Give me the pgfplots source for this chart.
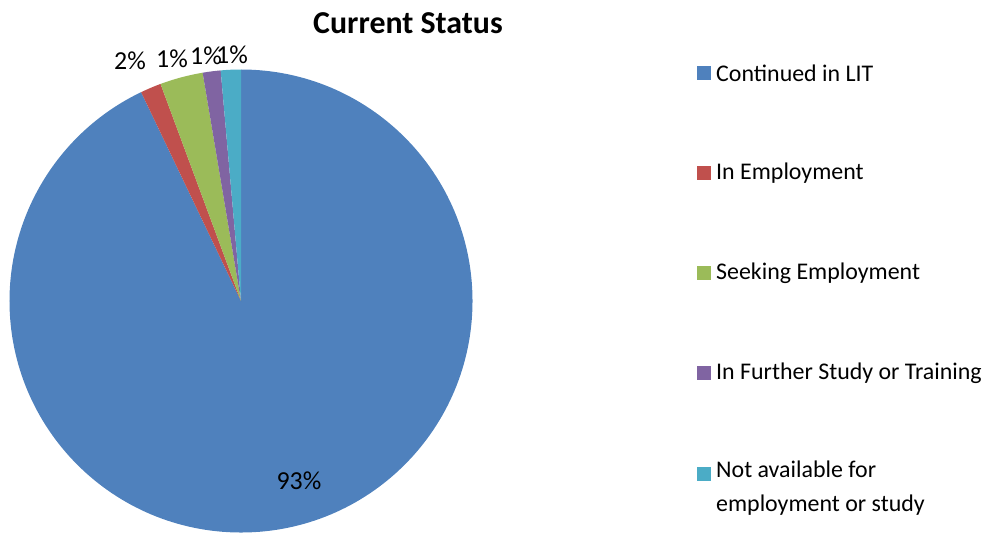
\documentclass[border=0pt]{standalone}
\usepackage{pgfplots}
\usepackage{pgfplotstable}
\pgfplotsset{compat=1.18}
\usepackage{fontspec}
\setmainfont{Carlito}
\definecolor{cBlue}{HTML}{4F81BD}
\definecolor{cRed}{HTML}{C0504D}
\definecolor{cGreen}{HTML}{9BBB59}
\definecolor{cPurple}{HTML}{8064A2}
\definecolor{cCyan}{HTML}{4BACC6}
\pgfplotstableread{
value color
92.9 cBlue
1.45 cRed
3.0 cGreen
1.25 cPurple
1.4 cCyan
}\piedata
\begin{document}
\begin{tikzpicture}[x=1bp,y=1bp]
\useasboundingbox (0,0) rectangle (992,-534);
\begin{axis}[
  at={(241bp,-301bp)}, anchor=center,
  scale only axis, width=463bp, height=463bp,
  xmin=-1, xmax=1, ymin=-1, ymax=1,
  hide axis, clip=false,
]
\pgfplotstablegetrowsof{\piedata}
\pgfmathtruncatemacro{\nrows}{\pgfplotsretval-1}
\def\cum{0}
\pgfplotsforeachungrouped \i in {0,...,\nrows}{%
  \pgfplotstablegetelem{\i}{value}\of{\piedata}\let\val\pgfplotsretval
  \pgfplotstablegetelem{\i}{color}\of{\piedata}\let\col\pgfplotsretval
  \pgfmathsetmacro{\astart}{90-\cum*3.6}%
  \pgfmathsetmacro{\aend}{90-(\cum+\val)*3.6}%
  \pgfmathsetmacro{\xs}{cos(\astart)}%
  \pgfmathsetmacro{\ys}{sin(\astart)}%
  \edef\temp{\noexpand\fill[\col] (axis cs:0,0) -- (axis cs:\xs,\ys) arc[start angle=\astart, end angle=\aend, radius=231.5bp] -- cycle;}%
  \temp
  \pgfmathsetmacro{\cum}{\cum+\val}%
  \global\let\cum\cum
}
\end{axis}
\node[font=\fontsize{32}{38}\selectfont\bfseries] at (408,-23) {Current Status};
\begin{scope}[font=\fontsize{26}{31}\selectfont]
\node at (299,-481) {93\%};
\node at (130,-61) {2\%};
\node at (172,-59) {1\%};
\node at (206,-56) {1\%};
\node at (232,-55) {1\%};
\end{scope}
\begin{scope}[font=\fontsize{24}{29}\selectfont]
\fill[cBlue] (697,-66) rectangle (711,-80);
\node[anchor=west,inner sep=0pt] at (716,-73) {Continued in LIT};
\fill[cRed] (697,-166) rectangle (711,-180);
\node[anchor=west,inner sep=0pt] at (716,-173) {In Employment};
\fill[cGreen] (697,-266) rectangle (711,-280);
\node[anchor=west,inner sep=0pt] at (716,-273) {Seeking Employment};
\fill[cPurple] (697,-366) rectangle (711,-380);
\node[anchor=west,inner sep=0pt] at (716,-373) {In Further Study or Training};
\fill[cCyan] (697,-467) rectangle (711,-481);
\node[anchor=north west,inner sep=0pt,align=left,font=\fontsize{24}{34}\selectfont] at (716,-461) {Not available for\\employment or study};
\end{scope}
\end{tikzpicture}
\end{document}
